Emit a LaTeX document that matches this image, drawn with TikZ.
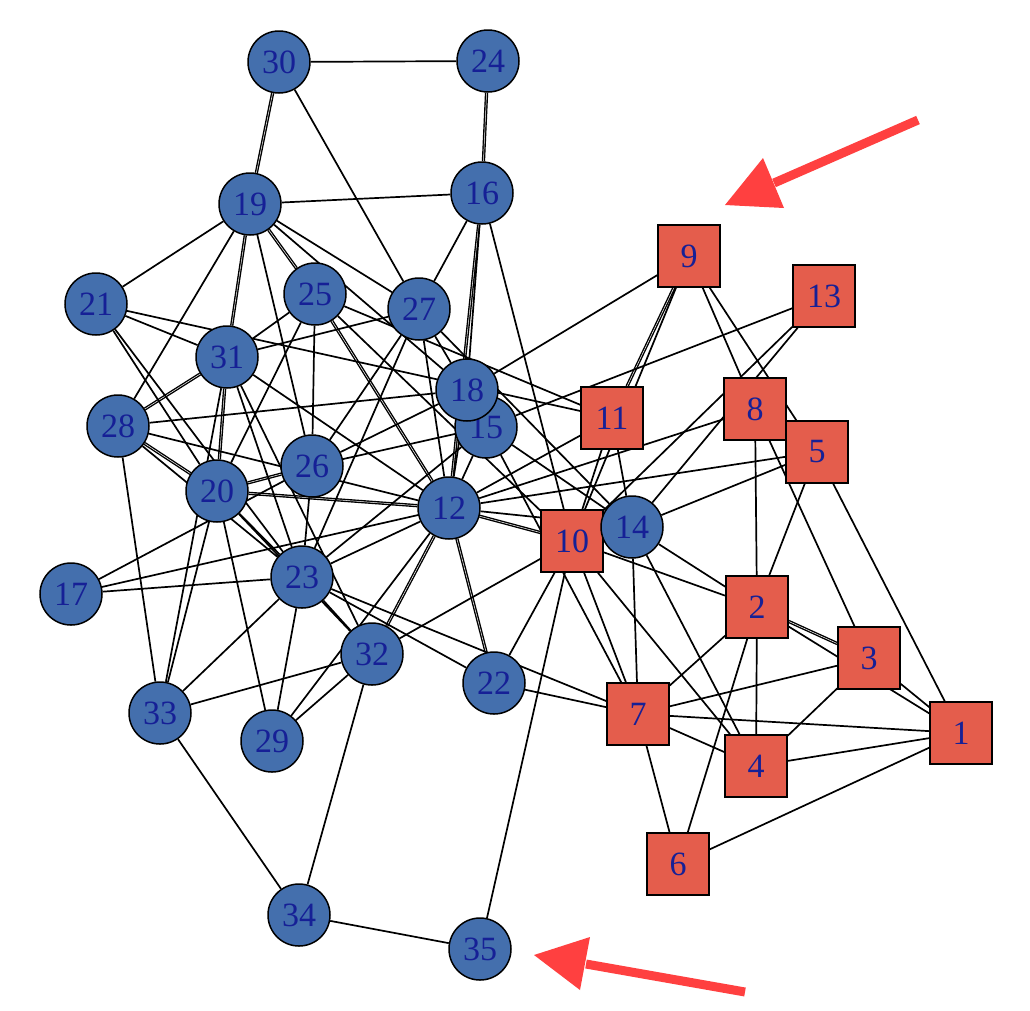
\documentclass[tikz,border=0pt]{standalone}
\usepackage{fontspec}
\setmainfont{Liberation Serif}
\usetikzlibrary{backgrounds}
\definecolor{bnode}{RGB}{68,111,173}
\definecolor{rnode}{RGB}{228,93,76}
\definecolor{lbl}{RGB}{22,32,150}
\definecolor{arrc}{RGB}{255,64,64}
\begin{document}
\begin{tikzpicture}[x=1pt,y=-1pt,
  bn/.style={circle,draw=black,line width=1.5pt,fill=bnode,minimum size=62pt,inner sep=0pt,text=lbl,font=\fontsize{34}{34}\selectfont},
  rn/.style={rectangle,draw=black,line width=1.5pt,fill=rnode,minimum size=62pt,inner sep=0pt,text=lbl,font=\fontsize{34}{34}\selectfont},
  ed/.style={line width=1.7pt,black},
  dbl/.style={line width=1.4pt,black,double=white,double distance=0.5pt},
  redarrow/.style={line width=9pt,arrc}]
\useasboundingbox (0,0) rectangle (1030,1010);
% nodes (drawing order matters for overlaps)
\node[rn] (n1) at (961,733) {1};
\node[rn] (n2) at (757,607) {2};
\node[rn] (n3) at (869,658) {3};
\node[rn] (n4) at (756,766) {4};
\node[rn] (n6) at (678,864) {6};
\node[rn] (n7) at (638,714) {7};
\node[rn] (n8) at (755,409) {8};
\node[rn] (n5) at (817,452) {5};
\node[rn] (n9) at (689,256) {9};
\node[rn] (n10) at (572,541) {10};
\node[rn] (n11) at (612,418) {11};
\node[bn] (n12) at (449,508) {12};
\node[rn] (n13) at (824,296) {13};
\node[bn] (n14) at (632,527) {14};
\node[bn] (n15) at (486,427) {15};
\node[bn] (n16) at (482,193) {16};
\node[bn] (n17) at (71,594) {17};
\node[bn] (n18) at (467,390) {18};
\node[bn] (n19) at (250,204) {19};
\node[bn] (n20) at (217,491) {20};
\node[bn] (n21) at (96,304) {21};
\node[bn] (n22) at (494,683) {22};
\node[bn] (n23) at (302,577) {23};
\node[bn] (n24) at (488,61) {24};
\node[bn] (n25) at (315,294) {25};
\node[bn] (n26) at (312,466) {26};
\node[bn] (n27) at (419,309) {27};
\node[bn] (n28) at (118,426) {28};
\node[bn] (n29) at (272,741) {29};
\node[bn] (n30) at (279,62) {30};
\node[bn] (n31) at (227,357) {31};
\node[bn] (n32) at (372,654) {32};
\node[bn] (n33) at (160,713) {33};
\node[bn] (n34) at (299,915) {34};
\node[bn] (n35) at (480,949) {35};
\begin{scope}[on background layer]
% double edges
\foreach \a/\b in {30/19,24/16,19/31,19/25,16/12,25/12,31/28,31/20,28/20,20/26,20/12,32/12,12/22,12/10,9/11,2/3}
  \draw[dbl] (n\a) -- (n\b);
% single edges
\foreach \a/\b in {30/24,30/27,19/16,19/21,19/28,19/26,19/27,19/18,16/27,16/18,16/10,
  21/31,21/11,21/20,21/23,25/31,25/20,25/26,25/11,25/10,27/31,27/26,27/12,27/18,27/23,27/14,
  31/23,31/32,31/12,31/33,28/18,28/12,28/33,28/23,20/23,20/33,20/29,20/32,17/26,17/12,17/23,
  26/23,26/18,26/15,23/12,23/22,23/7,23/32,23/29,23/33,23/15,33/32,33/34,29/32,29/12,32/10,32/34,
  12/18,12/15,12/14,12/11,12/8,12/5,18/9,15/13,15/14,15/7,10/13,14/13,9/10,9/8,9/5,10/11,11/14,
  10/22,10/35,10/7,10/4,10/2,14/5,14/2,14/7,14/4,8/2,8/3,5/2,5/1,2/1,2/7,2/6,2/4,3/7,3/4,3/1,
  1/7,1/4,1/6,7/22,7/4,7/6,34/35}
  \draw[ed] (n\a) -- (n\b);
\end{scope}
% red arrows
\coordinate (t1) at (918,120);
\coordinate (b1) at (774,183);
\coordinate (p1) at (725,205);
\coordinate (c1a) at (784,208);
\coordinate (c1b) at (763,158);
\draw[redarrow] (t1) -- (b1);
\fill[arrc] (p1) -- (c1a) -- (c1b) -- cycle;
\coordinate (t2) at (745,992);
\coordinate (b2) at (586,964);
\coordinate (p2) at (534,955);
\coordinate (c2a) at (580,990);
\coordinate (c2b) at (590,937);
\draw[redarrow] (t2) -- (b2);
\fill[arrc] (p2) -- (c2a) -- (c2b) -- cycle;
\end{tikzpicture}
\end{document}
